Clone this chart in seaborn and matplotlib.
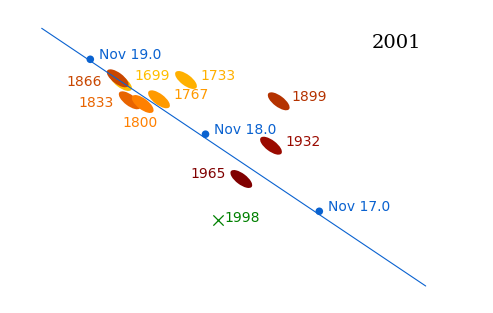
import matplotlib
matplotlib.use("Agg")
import matplotlib.pyplot as plt
from matplotlib.patches import Ellipse
import seaborn as sns
import pandas as pd

# ---- data (screen-like coordinates, y downward) ----
path_x = [41.7, 425.7]
path_y = [28.3, 286.0]
date_labels = ["Nov 19.0", "Nov 18.0", "Nov 17.0"]
date_x = [90.3, 205.5, 319.3]
date_y = [59.3, 134.2, 211.3]

trail_years = ["1699", "1733", "1767", "1833", "1800", "1866", "1899", "1932", "1965"]
trail_x = [121.0, 186.0, 159.0, 129.7, 142.7, 117.7, 278.7, 271.0, 241.3]
trail_y = [82.0, 80.0, 99.3, 100.3, 104.0, 78.3, 101.3, 145.7, 179.0]
trail_colors = ["#ffbe00", "#ffb000", "#ff9a00", "#e86400", "#ff8000",
                "#c84600", "#b43200", "#9a0a00", "#800000"]
# label anchor offsets relative to the ellipse centre
label_dx = [13.3, 14.0, 14.3, -16.4, -2.7, -16.0, 13.0, 14.0, -15.3]
label_dy = [-6.0, -4.0, -4.3, 3.0, 19.3, 3.4, -4.6, -4.0, -4.7]
label_ha = ["left", "left", "left", "right", "center", "right", "left", "left", "right"]

miss_year = "1998"
miss_x = [218.3]
miss_y = [220.0]

title_text = "2001"

BLUE = "#0a62d0"

sns.set_theme(style="white")
plt.rcParams["font.family"] = ["DejaVu Sans"]

fig = plt.figure(figsize=(4.93, 3.13), dpi=100)
ax = fig.add_axes([0, 0, 1, 1])

# ellipses (dust trails)
for yr, x, y, c in zip(trail_years, trail_x, trail_y, trail_colors):
    ax.add_patch(Ellipse((x, y), width=26, height=11, angle=37,
                         facecolor=c, edgecolor="none", zorder=2))

# Earth path
path_df = pd.DataFrame({"x": path_x, "y": path_y})
sns.lineplot(data=path_df, x="x", y="y", ax=ax, color=BLUE, lw=0.8,
             sort=False, zorder=3, legend=False)
dates_df = pd.DataFrame({"x": date_x, "y": date_y, "label": date_labels})
sns.scatterplot(data=dates_df, x="x", y="y", ax=ax, color=BLUE, s=30,
                edgecolor="none", zorder=4, legend=False)
for lab, x, y in zip(date_labels, date_x, date_y):
    ax.text(x + 9, y - 4.5, lab, color=BLUE, fontsize=10, ha="left",
            va="center", zorder=5)

# trail labels
for yr, x, y, c, dx, dy, ha in zip(trail_years, trail_x, trail_y, trail_colors,
                                    label_dx, label_dy, label_ha):
    ax.text(x + dx, y + dy, yr, color=c, fontsize=10, ha=ha, va="center",
            zorder=5)

# 1998 miss
miss_df = pd.DataFrame({"x": miss_x, "y": miss_y})
sns.scatterplot(data=miss_df, x="x", y="y", ax=ax, marker="x", color="#008000",
                s=55, linewidth=0.9, zorder=4, legend=False)
ax.text(miss_x[0] + 6.5, miss_y[0] - 1.5, miss_year, color="#008000",
        fontsize=10, ha="left", va="center")

ax.text(396.7, 43.3, title_text, color="black", fontsize=14,
        family="DejaVu Serif", ha="center", va="center")

ax.set_xlim(0, 493)
ax.set_ylim(313, 0)
ax.set_aspect("auto")
ax.axis("off")
fig.savefig("out.png", dpi=100, facecolor="white")
